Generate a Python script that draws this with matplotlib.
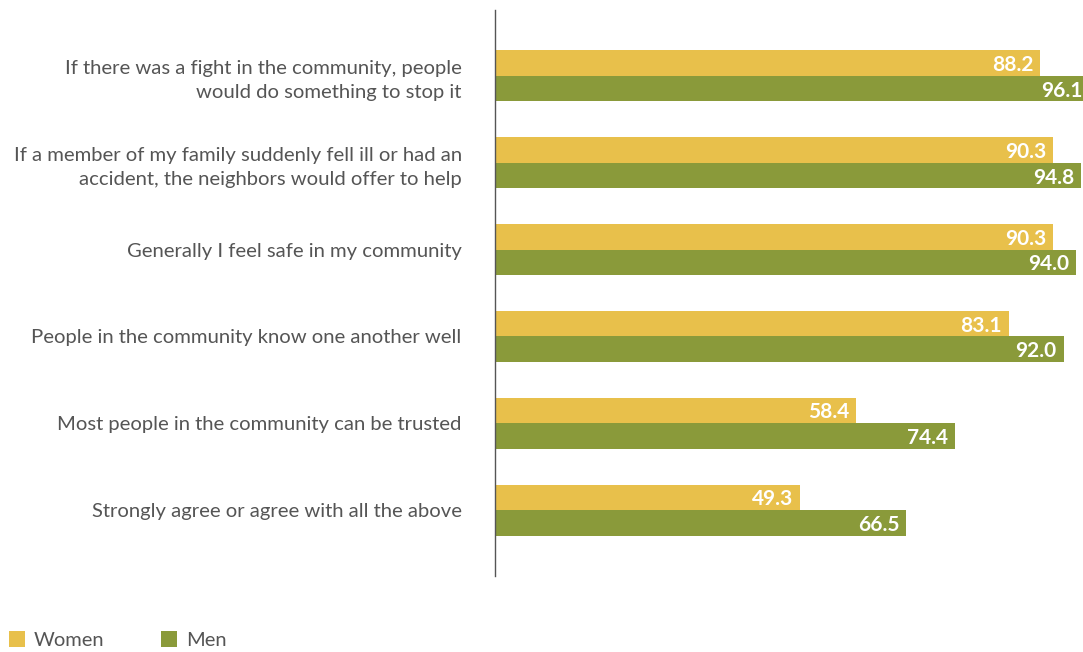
import matplotlib
matplotlib.use("Agg")
import matplotlib.pyplot as plt
from matplotlib.patches import Rectangle

categories = [
    "If there was a fight in the community, people\nwould do something to stop it",
    "If a member of my family suddenly fell ill or had an\naccident, the neighbors would offer to help",
    "Generally I feel safe in my community",
    "People in the community know one another well",
    "Most people in the community can be trusted",
    "Strongly agree or agree with all the above",
]
women = [88.2, 90.3, 90.3, 83.1, 58.4, 49.3]
men = [96.1, 94.8, 94.0, 92.0, 74.4, 66.5]
series_names = ["Women", "Men"]

C_W = "#E8C04B"
C_M = "#8A9A3A"
TXT = "#555555"
FONT = "Lato"

W, H = 1083, 652
fig = plt.figure(figsize=(W / 100, H / 100), dpi=100)
ax = fig.add_axes([495 / W, 1 - 576 / H, 1 - 495 / W, 566 / H])

bh = 0.294
ys = list(range(len(categories)))
for i, (w, m) in enumerate(zip(women, men)):
    ax.barh(i - bh / 2, w, height=bh, color=C_W, linewidth=0)
    ax.barh(i + bh / 2, m, height=bh, color=C_M, linewidth=0)
    ax.text(w - 1.1, i - bh / 2, f"{w:.1f}", ha="right", va="center_baseline",
            color="white", fontsize=15, fontweight="bold", family=FONT)
    ax.text(m - 1.1, i + bh / 2, f"{m:.1f}", ha="right", va="center_baseline",
            color="white", fontsize=15, fontweight="bold", family=FONT)

ax.set_xlim(0, 95.15)
ax.set_ylim(len(categories) - 1 + 0.76, -0.76)
ax.set_yticks(ys)
ax.set_yticklabels(categories, fontsize=14.6, color=TXT, family=FONT, linespacing=1.45)
ax.tick_params(axis="y", length=0, pad=24)
ax.set_xticks([])
for s in ["top", "right", "bottom"]:
    ax.spines[s].set_visible(False)
ax.spines["left"].set_color("#555555")
ax.spines["left"].set_linewidth(1.0)
for lbl in ax.get_yticklabels():
    lbl.set_horizontalalignment("right")

# legend
for x0, col, name in [(9, C_W, series_names[0]), (161, C_M, series_names[1])]:
    fig.patches.append(Rectangle((x0 / W, 1 - 647 / H), 16 / W, 16 / H,
                                 transform=fig.transFigure, color=col, linewidth=0))
    fig.text((x0 + 25) / W, 1 - 640 / H, name, ha="left", va="center",
             fontsize=14.5, color=TXT, family=FONT)

fig.savefig("out.png", dpi=100)
